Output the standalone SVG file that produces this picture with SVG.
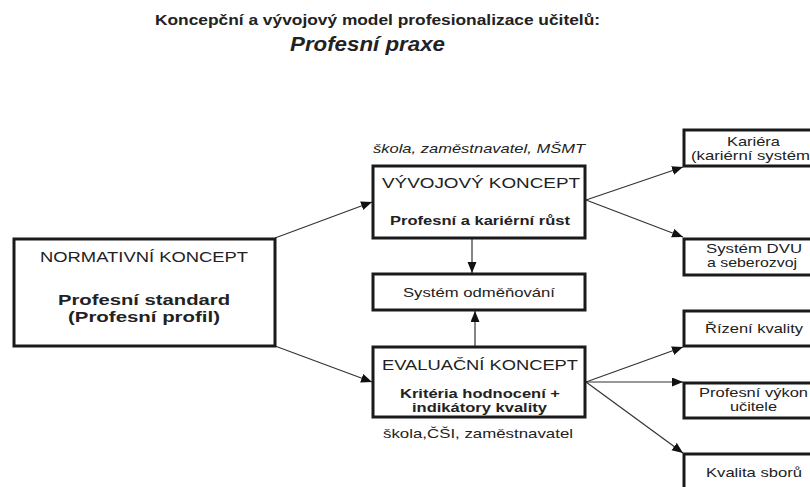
<svg xmlns="http://www.w3.org/2000/svg" width="810" height="487" viewBox="0 0 810 487">
<style>
text{font-family:"Liberation Sans",Arial,sans-serif;fill:#222;}
.t{font-size:14px;font-weight:bold;}
.ti{font-size:21px;font-weight:bold;font-style:italic;}
.h{font-size:14px;}
.b{font-size:14px;font-weight:bold;}
.s{font-size:13px;}
.sb{font-size:13px;font-weight:bold;}
.it{font-size:13px;font-style:italic;}
.box{fill:#fff;stroke:#1a1a1a;stroke-width:3;}
.ln{stroke:#333;stroke-width:1.2;fill:none;marker-end:url(#ah);}
</style>
<defs>
<marker id="ah" markerUnits="userSpaceOnUse" markerWidth="12" markerHeight="10" refX="11" refY="4.5" orient="auto">
<path d="M0,0 L11,4.5 L0,9 z" fill="#111"/>
</marker>
</defs>
<rect width="810" height="487" fill="#fff"/>
<g id="title">
<text class="t" x="155" y="25" textLength="445" lengthAdjust="spacingAndGlyphs">Koncepční a vývojový model profesionalizace učitelů:</text>
<text class="ti" x="290" y="51" textLength="155" lengthAdjust="spacingAndGlyphs">Profesní praxe</text>
</g>
<g id="connectors">
<path class="ln" d="M275,238 L372,202"/>
<path class="ln" d="M275,346 L372,382"/>
<path class="ln" d="M586,200 L683,167"/>
<path class="ln" d="M586,200 L683,237"/>
<path class="ln" d="M472,239 L472,273"/>
<path class="ln" d="M475,346 L475,311"/>
<path class="ln" d="M586,382 L683,347"/>
<path class="ln" d="M586,382 L683,382"/>
<path class="ln" d="M586,382 L683,453"/>
</g>
<g id="normativni">
<rect class="box" x="14" y="239" width="261" height="107"/>
<text class="h" x="40" y="262" textLength="208" lengthAdjust="spacingAndGlyphs">NORMATIVNÍ KONCEPT</text>
<text class="b" x="58" y="305" textLength="172" lengthAdjust="spacingAndGlyphs">Profesní standard</text>
<text class="b" x="68" y="322" textLength="152" lengthAdjust="spacingAndGlyphs">(Profesní profil)</text>
</g>
<g id="vyvojovy">
<text class="it" x="373" y="153" textLength="212" lengthAdjust="spacingAndGlyphs">škola, zaměstnavatel, MŠMT</text>
<rect class="box" x="373" y="166" width="212" height="72"/>
<text class="h" x="382" y="188" textLength="198" lengthAdjust="spacingAndGlyphs">VÝVOJOVÝ KONCEPT</text>
<text class="sb" x="390" y="225" textLength="180" lengthAdjust="spacingAndGlyphs">Profesní a kariérní růst</text>
</g>
<g id="odmenovani">
<rect class="box" x="373" y="274" width="212" height="36"/>
<text class="s" x="403" y="297" textLength="152" lengthAdjust="spacingAndGlyphs">Systém odměňování</text>
</g>
<g id="evaluacni">
<rect class="box" x="373" y="347" width="212" height="70"/>
<text class="h" x="382" y="370" textLength="196" lengthAdjust="spacingAndGlyphs">EVALUAČNÍ KONCEPT</text>
<text class="sb" x="400" y="398" textLength="160" lengthAdjust="spacingAndGlyphs">Kritéria hodnocení +</text>
<text class="sb" x="412" y="412" textLength="135" lengthAdjust="spacingAndGlyphs">indikátory kvality</text>
<text class="s" x="383" y="438" textLength="190" lengthAdjust="spacingAndGlyphs">škola,ČŠI, zaměstnavatel</text>
</g>
<g id="kariera">
<rect class="box" x="684" y="130" width="150" height="36"/>
<text class="s" x="727" y="146" textLength="53" lengthAdjust="spacingAndGlyphs">Kariéra</text>
<text class="s" x="691" y="160" textLength="119" lengthAdjust="spacingAndGlyphs">(kariérní systém</text>
</g>
<g id="dvu">
<rect class="box" x="684" y="239" width="150" height="36"/>
<text class="s" x="706" y="253" textLength="96" lengthAdjust="spacingAndGlyphs">Systém DVU</text>
<text class="s" x="707" y="267" textLength="90" lengthAdjust="spacingAndGlyphs">a seberozvoj</text>
</g>
<g id="rizeni">
<rect class="box" x="684" y="311" width="150" height="35"/>
<text class="s" x="705" y="333" textLength="98" lengthAdjust="spacingAndGlyphs">Řízení kvality</text>
</g>
<g id="vykon">
<rect class="box" x="684" y="383" width="150" height="35"/>
<text class="s" x="699" y="397" textLength="109" lengthAdjust="spacingAndGlyphs">Profesní výkon</text>
<text class="s" x="730" y="411" textLength="47" lengthAdjust="spacingAndGlyphs">učitele</text>
</g>
<g id="sboru">
<rect class="box" x="684" y="454" width="150" height="40"/>
<text class="s" x="706" y="477" textLength="96" lengthAdjust="spacingAndGlyphs">Kvalita sborů</text>
</g>
</svg>
